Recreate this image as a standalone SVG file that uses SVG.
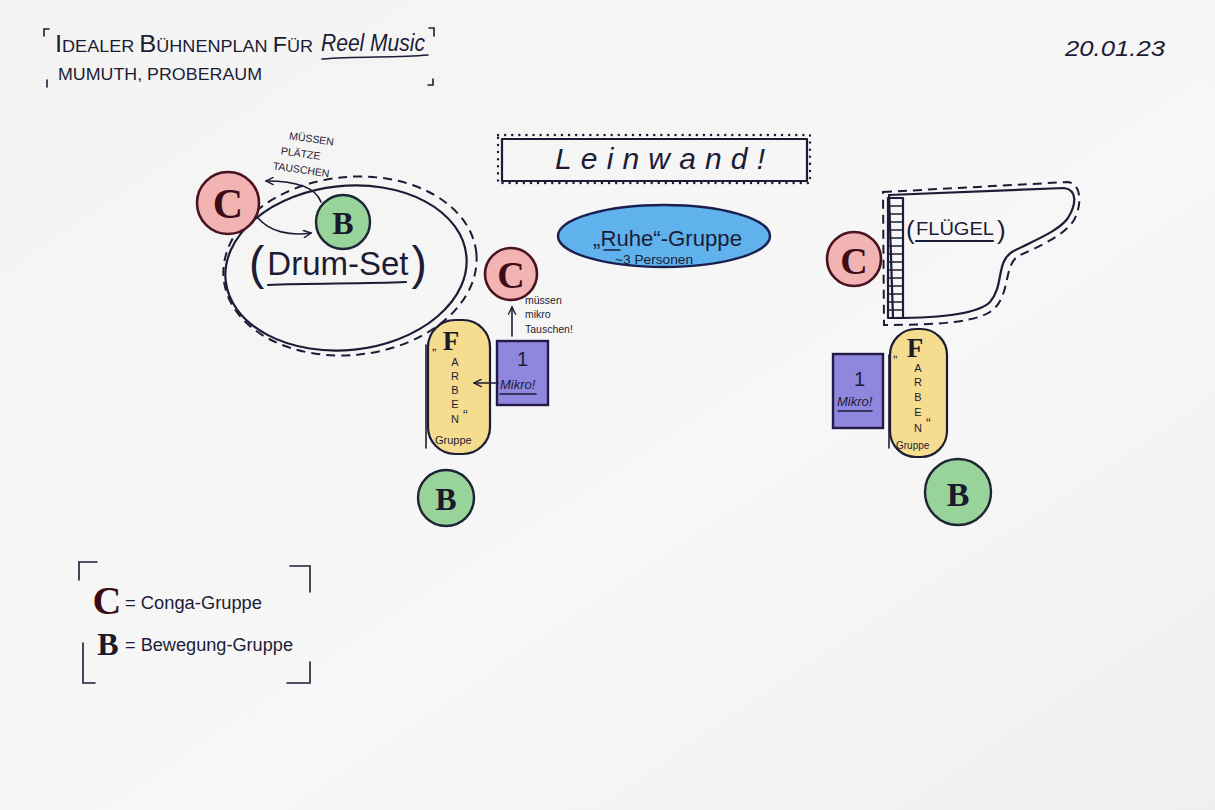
<svg xmlns="http://www.w3.org/2000/svg" width="1215" height="810" viewBox="0 0 1215 810">
<defs>
<linearGradient id="bg" x1="0" y1="0" x2="1" y2="1">
<stop offset="0" stop-color="#f3f3f2"/><stop offset="0.6" stop-color="#f7f7f7"/><stop offset="1" stop-color="#efeff1"/>
</linearGradient>
<marker id="ah" viewBox="0 0 10 10" refX="9" refY="5" markerWidth="9" markerHeight="9" orient="auto" markerUnits="userSpaceOnUse">
<path d="M1,1 L9,5 L1,9" fill="none" stroke="#1c1c36" stroke-width="1.6" stroke-linecap="round"/>
</marker>
</defs>
<style>
.ink{fill:none;stroke:#1c1c36;stroke-width:2.2;stroke-linecap:round;stroke-linejoin:round}
.thin{fill:none;stroke:#1c1c36;stroke-width:1.6;stroke-linecap:round}
.dash{fill:none;stroke:#1c1c36;stroke-width:2;stroke-dasharray:9 6}
.dots{fill:none;stroke:#1c1c36;stroke-width:2.4;stroke-dasharray:0.1 7;stroke-linecap:round}
.t{font-family:"Liberation Sans","DejaVu Sans",sans-serif;fill:#1c1c36}
.c-circ{fill:#f2b3b3;stroke:#4a1220;stroke-width:2.6}
.b-circ{fill:#98d49a;stroke:#1c2436;stroke-width:2.4}
.cl{font-family:"Liberation Serif",serif;font-weight:bold;fill:#3d0c16;text-anchor:middle}
.bl{font-family:"Liberation Serif",serif;font-weight:bold;fill:#1a1a2c;text-anchor:middle}
.mikro{fill:#8f86de;stroke:#241a4a;stroke-width:2.4}
.farben{fill:#f6dc8e;stroke:#1c1c36;stroke-width:2.2}
</style>
<rect width="1215" height="810" fill="url(#bg)"/>

<g id="title">
<path class="thin" d="M44,36 V29 H49 M429,28 H434 V36 M47,80 V87 M428,85 H433 V79"/>
<text class="t" x="55" y="52" font-size="17" textLength="258" lengthAdjust="spacingAndGlyphs"><tspan font-size="24">I</tspan>DEALER <tspan font-size="24">B</tspan>ÜHNENPLAN <tspan font-size="22">F</tspan>ÜR</text>
<text class="t" x="321" y="51" font-size="23" font-style="italic" font-family="Liberation Serif,serif" textLength="104" lengthAdjust="spacingAndGlyphs">Reel Music</text>
<path class="thin" d="M322,59 C360,56 395,58 428,55"/>
<text class="t" x="58" y="80" font-size="16" textLength="204" lengthAdjust="spacingAndGlyphs">MUMUTH, PROBERAUM</text>
</g>

<g id="date">
<text class="t" x="1065" y="56" font-size="22" font-style="italic" textLength="100" lengthAdjust="spacingAndGlyphs">20.01.23</text>
</g>

<g id="drumset">
<ellipse class="ink" cx="346" cy="268" rx="121" ry="82" transform="rotate(-6 346 268)"/>
<ellipse class="dash" cx="350" cy="266" rx="127" ry="89" transform="rotate(-6 350 266)"/>
<text class="t" x="249" y="279"><tspan font-size="46">(</tspan><tspan font-size="33" dx="3" dy="-4">Drum-Set</tspan><tspan font-size="46" dx="3" dy="4">)</tspan></text>
<path class="ink" d="M268,285 C310,283 360,284 406,282"/>
</g>

<g id="c-drum">
<circle class="c-circ" cx="228" cy="203" r="31"/>
<text class="cl" x="228" y="218" font-size="42">C</text>
</g>
<g id="b-drum">
<circle class="b-circ" cx="343" cy="222" r="27"/>
<text class="bl" x="343" y="234" font-size="32">B</text>
</g>
<g id="note-plaetze">
<text class="t" font-size="10.5" transform="rotate(8 300 160)"><tspan x="286" y="141">MÜSSEN</tspan><tspan x="280" y="157">PLÄTZE</tspan><tspan x="274" y="173">TAUSCHEN</tspan></text>
</g>

<g id="leinwand">
<rect class="dots" x="498" y="135" width="312" height="48"/>
<rect class="ink" x="502" y="139" width="305" height="42"/>
<text class="t" x="555" y="169" font-size="30" font-style="italic" font-family="Liberation Serif,serif" textLength="210" lengthAdjust="spacing">Leinwand!</text>
</g>

<g id="ruhe">
<ellipse cx="664" cy="236" rx="106" ry="31" fill="#5fb2ec" stroke="#1c2050" stroke-width="2.4"/>
<text class="t" x="593" y="246" font-size="22" textLength="149" lengthAdjust="spacingAndGlyphs">„Ruhe“-Gruppe</text>
<path class="thin" d="M604,250 H620"/>
<text class="t" x="615" y="264" font-size="13" textLength="78" lengthAdjust="spacingAndGlyphs">~3 Personen</text>
</g>

<g id="c-mid">
<circle class="c-circ" cx="511" cy="274" r="26"/>
<text class="cl" x="511" y="288" font-size="38">C</text>
</g>
<g id="note-mikro">
<text class="t" font-size="10.5"><tspan x="525" y="304">müssen</tspan><tspan x="525" y="318">mikro</tspan><tspan x="525" y="333">Tauschen!</tspan></text>
</g>

<g id="mikro-left">
<rect class="mikro" x="497" y="341" width="51" height="64"/>
<text class="t" x="517" y="366" font-size="20">1</text>
<text class="t" x="500" y="389" font-size="13" font-style="italic">Mikro!</text>
<path class="thin" d="M500,394 H536"/>
</g>

<g id="farben-left">
<rect class="farben" x="428" y="320" width="62" height="134" rx="27"/>
<path class="thin" d="M426,345 V448"/>
<text class="t" x="432" y="350" font-size="13">„</text>
<text class="bl" x="451" y="350" font-size="27">F</text>
<text class="t" font-size="11" text-anchor="middle"><tspan x="455" y="366">A</tspan><tspan x="455" y="380">R</tspan><tspan x="455" y="394">B</tspan><tspan x="455" y="408">E</tspan><tspan x="455" y="423">N</tspan></text>
<text class="t" x="463" y="420" font-size="14">“</text>
<text class="t" x="435" y="444" font-size="11">Gruppe</text>
</g>

<g id="b-left">
<circle class="b-circ" cx="446" cy="498" r="28"/>
<text class="bl" x="446" y="510" font-size="32">B</text>
</g>

<g id="fluegel">
<path class="ink" d="M889,195 L1064,188 C1078,190 1076,205 1068,218 C1058,232 1030,242 1012,252 C996,262 1004,286 990,302 C978,314 940,318 893,318 Z"/>
<path class="dash" d="M883,192 L1068,182 C1082,184 1082,205 1074,220 C1064,236 1036,248 1018,256 C1004,266 1010,292 995,308 C982,322 940,325 884,325 Z"/>
<rect class="ink" x="888" y="198" width="15" height="120" fill="none"/>
<path class="thin" d="M888,206H903M888,214H903M888,222H903M888,230H903M888,238H903M888,246H903M888,254H903M888,262H903M888,270H903M888,278H903M888,286H903M888,294H903M888,302H903M888,310H903"/>
<text class="t" x="906" y="239" font-size="26">(</text>
<text class="t" x="916" y="235" font-size="18" textLength="78" lengthAdjust="spacingAndGlyphs">FLÜGEL</text>
<text class="t" x="997" y="239" font-size="26">)</text>
<path class="ink" d="M916,241 H993"/>
</g>

<g id="c-right">
<circle class="c-circ" cx="854" cy="259" r="27"/>
<text class="cl" x="854" y="274" font-size="38">C</text>
</g>

<g id="mikro-right">
<rect class="mikro" x="833" y="354" width="50" height="74"/>
<text class="t" x="854" y="386" font-size="20">1</text>
<text class="t" x="837" y="406" font-size="13" font-style="italic">Mikro!</text>
<path class="thin" d="M838,411 H872"/>
</g>

<g id="farben-right">
<rect class="farben" x="890" y="329" width="57" height="128" rx="26"/>
<path class="thin" d="M889,355 V448"/>
<text class="t" x="893" y="357" font-size="13">„</text>
<text class="bl" x="915" y="357" font-size="27">F</text>
<text class="t" font-size="11" text-anchor="middle"><tspan x="918" y="372">A</tspan><tspan x="918" y="386">R</tspan><tspan x="918" y="401">B</tspan><tspan x="918" y="416">E</tspan><tspan x="918" y="432">N</tspan></text>
<text class="t" x="926" y="428" font-size="14">“</text>
<text class="t" x="896" y="449" font-size="10">Gruppe</text>
</g>

<g id="b-right">
<circle class="b-circ" cx="958" cy="492" r="33"/>
<text class="bl" x="958" y="506" font-size="34">B</text>
</g>

<g id="connectors">
<path class="thin" d="M321,202 C316,188 296,181 266,181" marker-end="url(#ah)"/>
<path class="thin" d="M258,218 C270,232 290,236 311,233" marker-end="url(#ah)"/>
<path class="thin" d="M512,336 V307" marker-end="url(#ah)"/>
<path class="thin" d="M498,383 H474" marker-end="url(#ah)"/>
</g>

<g id="legend">
<path class="thin" d="M79,580 V562 H97 M290,566 H310 V592 M83,643 V683 H95 M310,662 V683 H287"/>
<text class="cl" x="107" y="614" font-size="40">C</text>
<text class="t" x="125" y="609" font-size="18" textLength="137" lengthAdjust="spacingAndGlyphs">= Conga-Gruppe</text>
<text class="bl" x="108" y="655" font-size="32">B</text>
<text class="t" x="125" y="651" font-size="18" textLength="168" lengthAdjust="spacingAndGlyphs">= Bewegung-Gruppe</text>
</g>
</svg>
